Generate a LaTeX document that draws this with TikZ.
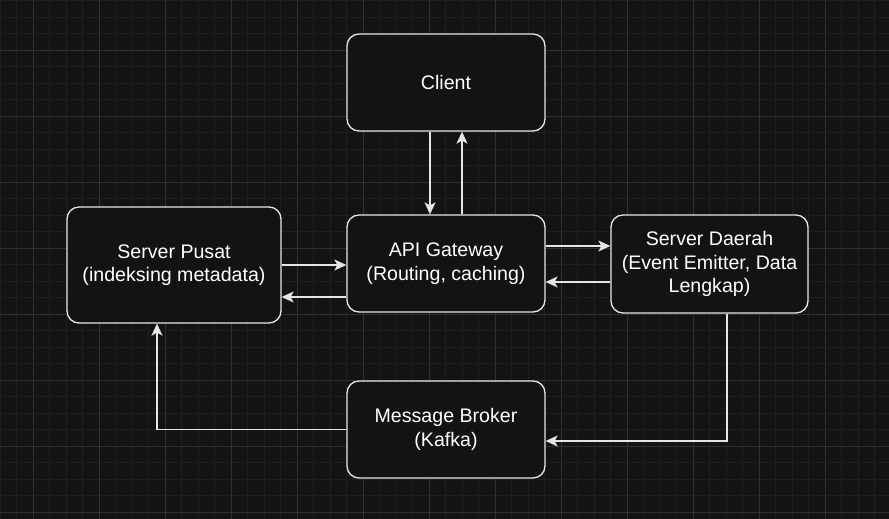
\documentclass[tikz,border=0pt]{standalone}
\usepackage{fontspec}
\setmainfont{Liberation Sans}
\usetikzlibrary{arrows.meta}
\definecolor{bgdark}{HTML}{131313}
\definecolor{gridminor}{HTML}{1E1E1E}
\definecolor{gridmajor}{HTML}{303030}
\definecolor{linegray}{HTML}{E6E6E6}
\begin{document}
\begin{tikzpicture}[x=1pt,y=-1pt]
        %
        % `block' is used for every component box.
        % `arr' is used for the connectors between boxes.
        \tikzstyle{block} = [draw=linegray,fill=bgdark,line width=1.3pt,rounded corners=12pt,
                text=white,align=center,font=\fontsize{19.6}{23.6}\selectfont,inner sep=2pt]
        \tikzstyle{arr} = [draw=linegray,line width=1.3pt,-{Stealth[length=12pt,width=11pt,inset=3pt]}]
        %
        % Background and grid
        \fill[bgdark] (0,0) rectangle (889,519);
        \useasboundingbox (0,0) rectangle (889,519);
        \foreach \i in {0,...,53} {
          \draw[gridminor,line width=0.8pt] ({0.3+16.5*\i},0) -- ({0.3+16.5*\i},519);
        }
        \foreach \i in {0,...,31} {
          \draw[gridminor,line width=0.8pt] (0,{0.5+16.5*\i}) -- (889,{0.5+16.5*\i});
        }
        \foreach \i in {0,...,13} {
          \draw[gridmajor,line width=0.8pt] ({33.3+66*\i},0) -- ({33.3+66*\i},519);
        }
        \foreach \i in {0,...,7} {
          \draw[gridmajor,line width=0.8pt] (0,{50+66*\i}) -- (889,{50+66*\i});
        }
        %
        % Boxes
        \node[block,minimum width=198pt,minimum height=97pt] (client) at (446,82.5) {Client};
        \node[block,minimum width=198pt,minimum height=97pt] (api) at (446,263.5)
                {API Gateway\\(Routing, caching)};
        \node[block,minimum width=214pt,minimum height=116pt] (pusat) at (174,265)
                {Server Pusat\\(indeksing metadata)};
        \node[block,minimum width=197pt,minimum height=98pt] (daerah) at (709.5,264)
                {Server Daerah\\(Event Emitter, Data\\Lengkap)};
        \node[block,minimum width=198pt,minimum height=97pt] (broker) at (446,429.5)
                {Message Broker\\(Kafka)};
        %
        % Client <-> API Gateway
        \draw[arr] ([xshift=-16pt]client.south) -- ([xshift=-16pt]api.north);
        \draw[arr] ([xshift=16pt]api.north) -- ([xshift=16pt]client.south);
        %
        % Server Pusat <-> API Gateway
        \draw[arr] (pusat.east) -- (pusat.east -| api.west);
        \draw[arr] ([yshift=-32pt]pusat.east -| api.west) -- ([yshift=-32pt]pusat.east);
        %
        % API Gateway <-> Server Daerah
        \draw[arr] ([yshift=17.5pt]api.east) -- ([yshift=17.5pt]api.east -| daerah.west);
        \draw[arr] ([yshift=-18.5pt]api.east -| daerah.west) -- ([yshift=-18.5pt]api.east);
        %
        % Server Daerah -> Message Broker -> Server Pusat
        \draw[arr] ([xshift=17.5pt]daerah.south) |- ([yshift=-11.5pt]broker.east);
        \draw[arr] (broker.west) -| ([xshift=-17pt]pusat.south);
        %
\end{tikzpicture}
\end{document}
